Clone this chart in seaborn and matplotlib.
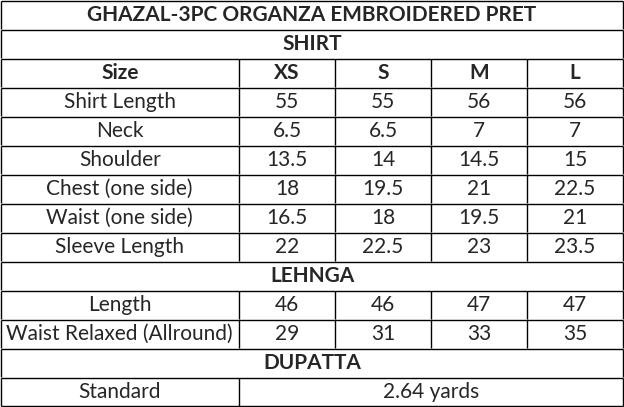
import matplotlib
matplotlib.use("Agg")
import matplotlib.pyplot as plt
import seaborn as sns

title = "GHAZAL-3PC ORGANZA EMBROIDERED PRET"
sizes = ["XS", "S", "M", "L"]
shirt_rows = ["Shirt Length", "Neck", "Shoulder", "Chest (one side)", "Waist (one side)", "Sleeve Length"]
shirt_vals = [["55", "55", "56", "56"], ["6.5", "6.5", "7", "7"], ["13.5", "14", "14.5", "15"],
              ["18", "19.5", "21", "22.5"], ["16.5", "18", "19.5", "21"], ["22", "22.5", "23", "23.5"]]
lehnga_rows = ["Length", "Waist Relaxed (Allround)"]
lehnga_vals = [["46", "46", "47", "47"], ["29", "31", "33", "35"]]
dupatta_label = "Standard"
dupatta_val = "2.64 yards"

sns.set_theme(style="white")
plt.rcParams['font.family'] = ['Lato', 'DejaVu Sans']

W, H = 624, 407
fig = plt.figure(figsize=(W/100, H/100), dpi=100)
ax = fig.add_axes([0, 0, 1, 1])
ax.set_xlim(0, W); ax.set_ylim(H, 0); ax.axis("off")

rh = 29.0
cols = [0.5, 239, 335, 431, 527, 623]
fs = 15
rows = []
rows.append(("head", title))
rows.append(("head", "SHIRT"))
rows.append(("data_bold", ["Size"] + sizes))
for n, v in zip(shirt_rows, shirt_vals):
    rows.append(("data", [n] + v))
rows.append(("head", "LEHNGA"))
for n, v in zip(lehnga_rows, lehnga_vals):
    rows.append(("data", [n] + v))
rows.append(("head", "DUPATTA"))
rows.append(("span", [dupatta_label, dupatta_val]))

lw = 1.0
for i, (kind, content) in enumerate(rows):
    y0, y1 = i*rh + 0.5, (i+1)*rh
    yc = (y0 + y1) / 2 + 0.5
    ax.hlines(y0, cols[0], cols[-1], color="black", lw=lw)
    ax.vlines([cols[0], cols[-1]], y0, y1, color="black", lw=lw)
    if kind == "head":
        ax.text(W/2, yc, content, ha="center", va="center", fontsize=fs, fontweight="bold")
    elif kind == "span":
        ax.vlines(cols[1], y0, y1, color="black", lw=lw)
        ax.text((cols[0]+cols[1])/2, yc, content[0], ha="center", va="center", fontsize=fs)
        ax.text((cols[1]+cols[-1])/2, yc, content[1], ha="center", va="center", fontsize=fs)
    else:
        ax.vlines(cols[1:-1], y0, y1, color="black", lw=lw)
        for j, t in enumerate(content):
            ax.text((cols[j]+cols[j+1])/2, yc, t, ha="center", va="center", fontsize=fs,
                    fontweight="bold" if kind == "data_bold" else "normal")
ax.hlines(H - 1, cols[0], cols[-1], color="black", lw=lw)

fig.savefig("out.png", dpi=100, facecolor="white")
